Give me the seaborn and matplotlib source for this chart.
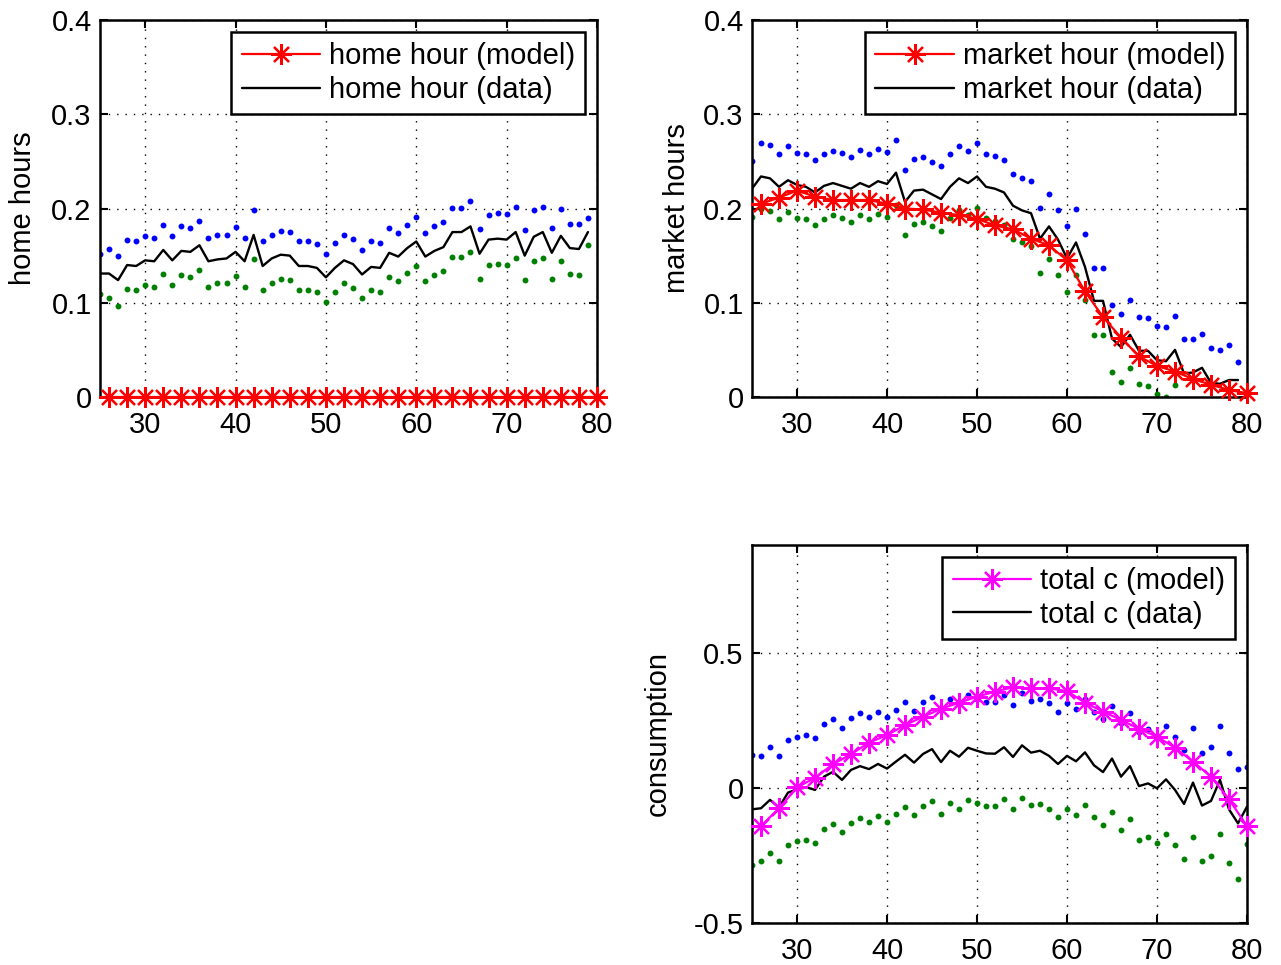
import matplotlib
matplotlib.use("Agg")
import matplotlib.pyplot as plt
import seaborn as sns

# ages for the data series and the model points
ages_hours = list(range(25, 80))
ages_cons = list(range(25, 81))
ages_model = list(range(26, 81, 2))

# home hours
home_data = [0.131, 0.131, 0.124, 0.140, 0.139, 0.145, 0.144, 0.156, 0.145, 0.155,
             0.154, 0.161, 0.144, 0.146, 0.147, 0.154, 0.144, 0.172, 0.139, 0.147,
             0.151, 0.150, 0.139, 0.139, 0.137, 0.127, 0.137, 0.145, 0.141, 0.130,
             0.138, 0.137, 0.153, 0.149, 0.158, 0.165, 0.149, 0.155, 0.159, 0.175,
             0.175, 0.181, 0.152, 0.167, 0.168, 0.167, 0.175, 0.150, 0.170, 0.175,
             0.153, 0.171, 0.158, 0.157, 0.175]
home_hi = [0.152, 0.157, 0.150, 0.167, 0.165, 0.171, 0.169, 0.182, 0.171, 0.181,
           0.179, 0.187, 0.169, 0.172, 0.172, 0.180, 0.169, 0.198, 0.165, 0.172,
           0.176, 0.175, 0.165, 0.165, 0.162, 0.152, 0.163, 0.172, 0.168, 0.156,
           0.165, 0.163, 0.179, 0.174, 0.183, 0.191, 0.174, 0.181, 0.186, 0.201,
           0.201, 0.208, 0.178, 0.193, 0.195, 0.194, 0.202, 0.177, 0.198, 0.202,
           0.179, 0.199, 0.184, 0.184, 0.190]
home_lo = [0.109, 0.105, 0.097, 0.115, 0.113, 0.119, 0.117, 0.130, 0.119, 0.129,
           0.127, 0.135, 0.117, 0.121, 0.121, 0.128, 0.117, 0.146, 0.113, 0.121,
           0.125, 0.124, 0.114, 0.114, 0.111, 0.101, 0.111, 0.121, 0.116, 0.105,
           0.113, 0.111, 0.127, 0.123, 0.132, 0.139, 0.123, 0.129, 0.134, 0.149,
           0.149, 0.154, 0.125, 0.140, 0.141, 0.140, 0.147, 0.124, 0.144, 0.148,
           0.125, 0.144, 0.130, 0.129, 0.161]
home_model = [0.0, 0.0, 0.0, 0.0, 0.0, 0.0, 0.0, 0.0, 0.0, 0.0, 0.0, 0.0, 0.0, 0.0,
              0.0, 0.0, 0.0, 0.0, 0.0, 0.0, 0.0, 0.0, 0.0, 0.0, 0.0, 0.0, 0.0, 0.0]

# market hours
market_data = [0.221, 0.234, 0.232, 0.223, 0.230, 0.225, 0.223, 0.217, 0.224, 0.227,
               0.224, 0.221, 0.227, 0.223, 0.229, 0.226, 0.238, 0.207, 0.219, 0.220,
               0.215, 0.210, 0.223, 0.232, 0.227, 0.234, 0.223, 0.221, 0.217, 0.203,
               0.198, 0.195, 0.168, 0.181, 0.167, 0.147, 0.164, 0.138, 0.102, 0.102,
               0.062, 0.053, 0.066, 0.049, 0.049, 0.039, 0.038, 0.050, 0.025, 0.026,
               0.031, 0.015, 0.014, 0.018, 0.018]
market_hi = [0.250, 0.269, 0.267, 0.258, 0.266, 0.259, 0.258, 0.251, 0.258, 0.261,
             0.259, 0.255, 0.262, 0.258, 0.263, 0.260, 0.273, 0.241, 0.253, 0.255,
             0.249, 0.245, 0.258, 0.266, 0.261, 0.269, 0.258, 0.256, 0.251, 0.237,
             0.232, 0.229, 0.201, 0.215, 0.198, 0.181, 0.199, 0.173, 0.137, 0.137,
             0.098, 0.088, 0.103, 0.085, 0.084, 0.075, 0.074, 0.086, 0.062, 0.062,
             0.067, 0.052, 0.050, 0.055, 0.037]
market_lo = [0.191, 0.199, 0.197, 0.189, 0.196, 0.190, 0.189, 0.182, 0.189, 0.193,
             0.190, 0.186, 0.193, 0.189, 0.194, 0.191, 0.204, 0.172, 0.184, 0.186,
             0.181, 0.176, 0.190, 0.198, 0.193, 0.201, 0.190, 0.187, 0.182, 0.168,
             0.164, 0.160, 0.132, 0.146, 0.129, 0.111, 0.129, 0.103, 0.066, 0.066,
             0.027, 0.016, 0.031, 0.014, 0.012, 0.003, 0.000, 0.013, -0.012, -0.010,
             -0.005, -0.022, -0.022, -0.019, -0.004]
market_model = [0.205, 0.2115, 0.219, 0.2125, 0.209, 0.209, 0.209, 0.205, 0.200, 0.199,
                0.1955, 0.193, 0.189, 0.182, 0.178, 0.168, 0.161, 0.145, 0.112, 0.085,
                0.063, 0.043, 0.033, 0.027, 0.019, 0.013, 0.0074, 0.004]

# consumption
cons_data = [-0.079, -0.075, -0.044, -0.072, -0.017, -0.005, 0.003, -0.007, 0.042, 0.060,
             0.030, 0.067, 0.081, 0.070, 0.089, 0.072, 0.098, 0.123, 0.094, 0.126,
             0.144, 0.096, 0.138, 0.116, 0.149, 0.138, 0.128, 0.127, 0.151, 0.115,
             0.158, 0.131, 0.138, 0.119, 0.089, 0.119, 0.099, 0.132, 0.084, 0.059,
             0.109, 0.042, 0.081, 0.007, 0.017, -0.001, 0.032, -0.007, -0.059, 0.020,
             -0.065, -0.048, 0.030, -0.079, -0.131, -0.069]
cons_hi = [0.122, 0.120, 0.151, 0.119, 0.178, 0.190, 0.195, 0.184, 0.238, 0.254,
           0.222, 0.258, 0.276, 0.264, 0.283, 0.262, 0.290, 0.317, 0.285, 0.319,
           0.337, 0.289, 0.331, 0.311, 0.343, 0.331, 0.320, 0.320, 0.344, 0.309,
           0.352, 0.323, 0.331, 0.314, 0.283, 0.314, 0.291, 0.328, 0.280, 0.257,
           0.302, 0.242, 0.279, 0.207, 0.217, 0.194, 0.230, 0.188, 0.140, 0.221,
           0.131, 0.151, 0.230, 0.131, 0.072, 0.079]
cons_lo = [-0.285, -0.269, -0.240, -0.270, -0.212, -0.196, -0.193, -0.203, -0.151, -0.133,
           -0.164, -0.130, -0.111, -0.125, -0.104, -0.126, -0.096, -0.069, -0.101, -0.068,
           -0.049, -0.098, -0.057, -0.078, -0.044, -0.056, -0.065, -0.065, -0.042, -0.079,
           -0.036, -0.063, -0.059, -0.078, -0.106, -0.077, -0.099, -0.064, -0.109, -0.137,
           -0.090, -0.157, -0.116, -0.193, -0.180, -0.203, -0.170, -0.211, -0.264, -0.180,
           -0.270, -0.253, -0.170, -0.278, -0.336, -0.206]
cons_model = [-0.141, -0.075, 0.002, 0.038, 0.088, 0.125, 0.168, 0.196, 0.233, 0.264,
              0.293, 0.316, 0.338, 0.357, 0.373, 0.369, 0.369, 0.359, 0.316, 0.283,
              0.252, 0.219, 0.190, 0.149, 0.098, 0.042, -0.042, -0.141]

sns.set_style("white")
plt.rcParams['font.family'] = ['Liberation Sans', 'DejaVu Sans']
plt.rcParams['text.color'] = 'black'
plt.rcParams['axes.labelcolor'] = 'black'
plt.rcParams['xtick.color'] = 'black'
plt.rcParams['ytick.color'] = 'black'

FS = 21
STAR = (8, 2, 0)


def panel(ax, ages, data, hi, lo, model, mcolor, label, ylabel, ylim, yticks, yticklabels, lpad):
    sns.scatterplot(x=ages, y=hi, ax=ax, color='blue', s=18, linewidth=0, legend=False)
    sns.scatterplot(x=ages, y=lo, ax=ax, color='green', s=18, linewidth=0, legend=False)
    sns.lineplot(x=ages_model, y=model, ax=ax, color=mcolor, lw=1.6, marker=STAR,
                 markersize=15, markeredgewidth=1.6, markeredgecolor=mcolor,
                 label=label + ' (model)', clip_on=False, zorder=4)
    sns.lineplot(x=ages, y=data, ax=ax, color='black', lw=1.7,
                 label=label + ' (data)', zorder=3)
    ax.set_xlim(25, 80)
    ax.set_ylim(*ylim)
    ax.set_xticks([30, 40, 50, 60, 70, 80])
    ax.set_xticklabels(['30', '40', '50', '60', '70', '80'])
    ax.set_yticks(yticks)
    ax.set_yticklabels(yticklabels)
    ax.grid(True, linestyle=(0, (1, 5)), color='black', lw=1.0)
    ax.tick_params(direction='in', length=6, width=1.5, labelsize=FS,
                   top=True, right=True, bottom=True, left=True, pad=6)
    ax.tick_params(axis='x', pad=10)
    for sp in ax.spines.values():
        sp.set_visible(True)
        sp.set_color('black')
        sp.set_linewidth(1.8)
    ax.set_xlabel('')
    ax.set_ylabel(ylabel, fontsize=FS, labelpad=lpad)
    leg = ax.legend(loc='upper right', fontsize=FS, fancybox=False, framealpha=1,
                    edgecolor='black', borderaxespad=0.4, handlelength=2.7,
                    borderpad=0.35, labelspacing=0.2, handletextpad=0.3)
    leg.get_frame().set_linewidth(1.8)


fig = plt.figure(figsize=(12.81, 9.65), dpi=100)
ax1 = fig.add_axes([100 / 1281, 1 - 397 / 965, 497 / 1281, 377 / 965])
ax2 = fig.add_axes([752 / 1281, 1 - 397 / 965, 495 / 1281, 377 / 965])
ax3 = fig.add_axes([752 / 1281, 1 - 923 / 965, 495 / 1281, 378 / 965])

panel(ax1, ages_hours, home_data, home_hi, home_lo, home_model, 'red', 'home hour',
      'home hours', (0, 0.4), [0, 0.1, 0.2, 0.3, 0.4], ['0', '0.1', '0.2', '0.3', '0.4'], 10)
panel(ax2, ages_hours, market_data, market_hi, market_lo, market_model, 'red', 'market hour',
      'market hours', (0, 0.4), [0, 0.1, 0.2, 0.3, 0.4], ['0', '0.1', '0.2', '0.3', '0.4'], 9)
panel(ax3, ages_cons, cons_data, cons_hi, cons_lo, cons_model, 'magenta', 'total c',
      'consumption', (-0.5, 0.9), [-0.5, 0, 0.5], ['-0.5', '0', '0.5'], 16)

fig.savefig('out.png', dpi=100)
